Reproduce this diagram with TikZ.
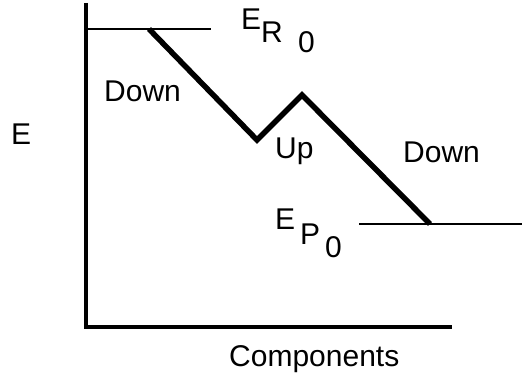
\documentclass[tikz,border=0pt]{standalone}
\usepackage{fontspec}
\setmainfont{Liberation Sans}
\usetikzlibrary{positioning}

\begin{document}
\begin{tikzpicture}[x=1pt, y=-1pt,
    lbl/.style={font=\fontsize{30}{33}\selectfont, inner sep=0pt, anchor=base west},
    axis/.style={line width=4pt},
    level/.style={line width=2pt},
    route/.style={line width=5.5pt, line join=miter}]
    \useasboundingbox (0,0) rectangle (523,379);

    % axes
    \coordinate (ytop) at (86,3);
    \coordinate (origin) at (86,327);
    \coordinate (xend) at (452,327);
    \draw[axis] (ytop) -- (origin) -- (xend);

    % energy levels
    \coordinate (rleft) at (86,29);
    \coordinate (rright) at (211,29);
    \coordinate (pleft) at (359,224);
    \coordinate (pright) at (522,224);
    \draw[level] (rleft) -- (rright);
    \draw[level] (pleft) -- (pright);

    % reaction path
    \coordinate (start) at (149,29);
    \coordinate (valley) at (257,140);
    \coordinate (peak) at (302,95);
    \coordinate (finish) at (430,224);
    \draw[route] (start) -- (valley) -- (peak) -- (finish);

    % labels
    \node[lbl] (elabel) at (11,145) {E};
    \node[lbl] (down1) at (104,102) {Down};
    \node[lbl] (up) at (275,159) {Up};
    \node[lbl] (down2) at (403,163) {Down};
    \node[lbl] (comp) at (229,367) {Components};

    \node[lbl] (er) at (241,30) {E};
    \node[lbl] (ersub) at (261,43) {R};
    \node[lbl] (erzero) at (298,53) {0};

    \node[lbl] (ep) at (275,230) {E};
    \node[lbl] (epsub) at (300,245) {P};
    \node[lbl] (epzero) at (325,258) {0};
\end{tikzpicture}
\end{document}
